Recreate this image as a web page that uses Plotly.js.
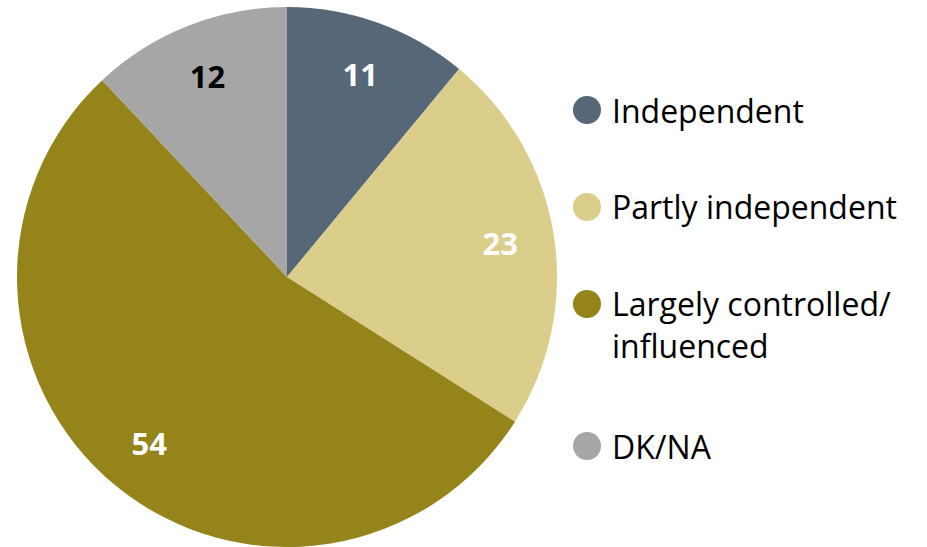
<!DOCTYPE html>
<html>
<head>
<meta charset="utf-8">
<script src="https://cdn.plot.ly/plotly-3.0.1.min.js"></script>
<style>html,body{margin:0;padding:0;background:#fff;}#chart{width:927px;height:547px;}</style>
</head>
<body>
<div id="chart"></div>
<script>
const categories = ["Independent", "Partly independent", "Largely controlled/<br>influenced", "DK/NA"];
const values = [11, 23, 54, 12];
const colors = ["#566778", "#DBCE8A", "#948419", "#A6A6A6"];
const labelColors = ["#FFFFFF", "#FFFFFF", "#FFFFFF", "#000000"];

const FONT = "Open Sans, Lato, sans-serif";
const cx = 287, cy = 277, R = 270, W = 927, H = 547;
const dom = {x: [(cx - R) / W, (cx + R) / W], y: [(H - cy - R) / H, (H - cy + R) / H]};

const basePie = {
  type: "pie", values: values, labels: categories, sort: false, direction: "clockwise", rotation: 0,
  marker: {colors: colors, line: {width: 0}}, textinfo: "none", hoverinfo: "none",
  showlegend: false, domain: dom
};
const textPie = {
  type: "pie", values: values, labels: categories, sort: false, direction: "clockwise", rotation: 0,
  hole: 0.6, marker: {colors: values.map(() => "rgba(0,0,0,0)"), line: {width: 0}},
  textinfo: "value", textposition: "inside", insidetextorientation: "horizontal",
  textfont: {family: FONT, size: 31, color: labelColors, weight: "bold"},
  hoverinfo: "none", showlegend: false, domain: dom
};

const legendY = [110, 207, 304, 446];
const annotations = [], shapes = [];
categories.forEach((c, i) => {
  const yp = 1 - legendY[i] / H;
  annotations.push({
    xref: "paper", yref: "paper", x: 610 / W, y: yp, xanchor: "left", yanchor: i === 2 ? "top" : "middle",
    yshift: i === 2 ? 24 : 0,
    text: c, showarrow: false, align: "left",
    font: {family: FONT, size: 32, color: "#000"}
  });
  shapes.push({
    type: "circle", xref: "paper", yref: "paper", xsizemode: "pixel", ysizemode: "pixel",
    xanchor: 587 / W, yanchor: yp, x0: -14, x1: 14, y0: -14, y1: 14,
    fillcolor: colors[i], line: {width: 0}
  });
});

Plotly.newPlot("chart", [basePie, textPie], {
  width: W, height: H, margin: {l: 0, r: 0, t: 0, b: 0},
  paper_bgcolor: "#fff", plot_bgcolor: "#fff",
  annotations: annotations, shapes: shapes, showlegend: false
}, {displayModeBar: false, staticPlot: true});
</script>
</body>
</html>
